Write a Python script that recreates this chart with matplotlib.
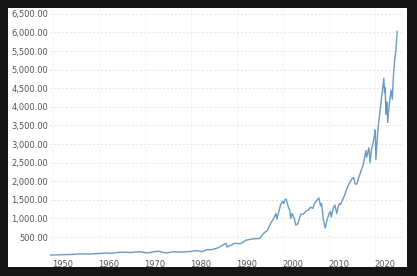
import numpy as np
import matplotlib
matplotlib.use("Agg")
import matplotlib.pyplot as plt
import matplotlib.transforms as mtransforms
from matplotlib.patches import Rectangle

# datos (anio, valor)
anios = [1949.4, 1950.5, 1952, 1954, 1955.5, 1957, 1958, 1960, 1961.9, 1962.5, 1964,
         1966, 1966.8, 1968.9, 1970.4, 1972.9, 1974.7, 1976, 1978, 1980, 1980.9,
         1982.5, 1983.5, 1984.5, 1985.9, 1987.6, 1987.85, 1989.5, 1990.8, 1992,
         1993.5, 1994.9, 1995.9, 1996.6, 1997.5, 1997.8, 1998.5, 1998.7, 1999.5,
         1999.9, 2000.2, 2000.4, 2000.7, 2001.2, 2001.5, 2001.7, 2002.0, 2002.5,
         2002.8, 2003.2, 2003.9, 2004.5, 2005.0, 2005.5, 2006.0, 2006.5, 2007.0,
         2007.5, 2007.8, 2008.2, 2008.4, 2008.8, 2009.2, 2009.5, 2010.0, 2010.3,
         2010.5, 2011.0, 2011.3, 2011.7, 2012.0, 2012.3, 2012.5, 2013.0, 2013.5,
         2014.0, 2014.5, 2015.0, 2015.4, 2015.7, 2016.1, 2016.5, 2017.0, 2017.5,
         2018.05, 2018.2, 2018.7, 2018.95, 2019.3, 2019.5, 2019.9, 2020.1, 2020.22,
         2020.5, 2020.7, 2021.0, 2021.5, 2021.95, 2022.1, 2022.2, 2022.45, 2022.6,
         2022.78, 2023.0, 2023.5, 2023.8, 2024.0, 2024.3, 2024.45, 2024.6, 2024.85]
valores = [15, 18, 25, 30, 42, 45, 42, 56, 70, 58, 83,
           92, 82, 105, 72, 118, 70, 100, 95, 110, 135,
           110, 160, 160, 210, 330, 230, 330, 320, 415,
           450, 460, 610, 670, 910, 950, 1130, 980, 1370,
           1460, 1400, 1500, 1520, 1300, 1220, 1000, 1130, 990,
           820, 850, 1110, 1120, 1200, 1220, 1300, 1270, 1430,
           1500, 1550, 1340, 1400, 960, 740, 920, 1115, 1190,
           1040, 1290, 1360, 1130, 1310, 1400, 1370, 1500, 1650,
           1830, 1960, 2060, 2100, 1920, 1930, 2100, 2280, 2450,
           2820, 2640, 2900, 2500, 2900, 2950, 3230, 3380, 2580,
           3100, 3450, 3750, 4300, 4770, 4380, 4520, 3800, 4130,
           3580, 3900, 4450, 4200, 4760, 5250, 5400, 5550, 6030]

decadas = [1950, 1960, 1970, 1980, 1990, 2000, 2010, 2020]
yticks = [500 * k for k in range(1, 14)]

fig = plt.figure(figsize=(4.17, 2.76), dpi=100)
fig.patch.set_facecolor('#151515')
fig.patches.append(Rectangle((8 / 417, 9 / 276), 399 / 417, 259 / 276,
                             transform=fig.transFigure, facecolor='white',
                             edgecolor='none', zorder=-5))

ax = fig.add_axes([50 / 417, 20.4 / 276, 352 / 417, 247.6 / 276])
ax.set_zorder(2)
ax.set_facecolor('none')
ax.plot(anios, valores, color='#6a9ac6', lw=1.0)

ax.set_xlim(1949.35, 2025.9)
ax.set_ylim(0, 6656)
ax.set_xticks(decadas)
ax.set_yticks(yticks)
ax.set_yticklabels(['{:,.2f}'.format(v) for v in yticks])

for s in ax.spines.values():
    s.set_visible(False)
ax.tick_params(length=0, labelsize=6, labelcolor='#555555')
ax.tick_params(axis='y', pad=1.5)
ax.tick_params(axis='x', pad=3)

desplazar = mtransforms.ScaledTranslation(10 / 100, 0, fig.dpi_scale_trans)
for lab in ax.get_xticklabels():
    lab.set_transform(lab.get_transform() + desplazar)

ax.grid(axis='y', color='#e4e4e4', linestyle=(0, (2, 2)), lw=0.7)
ax.grid(axis='x', color='#f0f0f0', linestyle=(0, (2, 2)), lw=0.7)
ax.set_axisbelow(True)

fig.savefig('out.png', dpi=100, facecolor=fig.get_facecolor())
